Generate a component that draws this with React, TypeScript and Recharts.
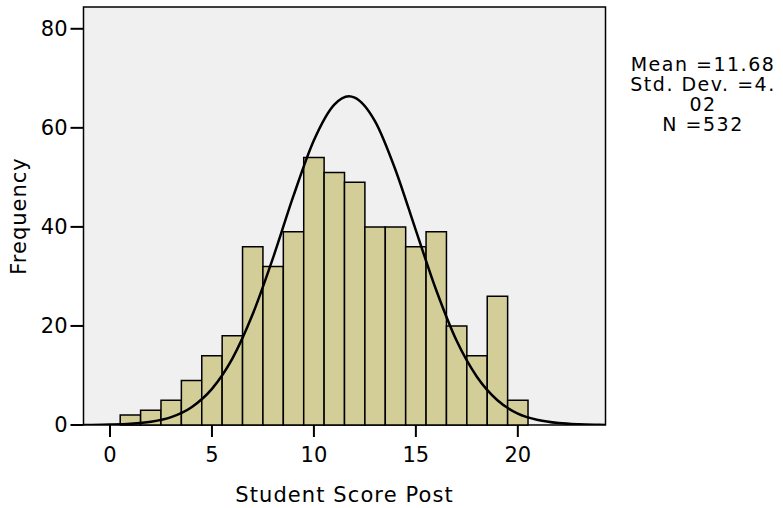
import React from 'react';
import { ComposedChart, Line, XAxis, YAxis, ReferenceArea, Label } from 'recharts';

// histogram bins (score, centred on integers, width 1)
const binCenters = [1, 2, 3, 4, 5, 6, 7, 8, 9, 10, 11, 12, 13, 14, 15, 16, 17, 18, 19, 20];
const binCounts = [2, 3, 5, 9, 14, 18, 36, 32, 39, 54, 51, 49, 40, 40, 36, 39, 20, 14, 26, 5];

// normal curve
const curveX = [-1.3, -1, 0, 1, 2, 3, 4, 5, 6, 7, 8, 9, 10, 11, 11.72, 12, 13, 14, 15, 16, 17, 18, 19, 20, 21, 22, 23, 24, 24.3];
const curveY = [0.01, 0.02, 0.08, 0.24, 0.66, 1.6, 3.6, 7.3, 13.4, 22.4, 33.8, 46.3, 57.5, 64.7, 66.4, 66.1, 61.3, 51.5, 39.3, 27.2, 17.0, 9.7, 5.0, 2.3, 1.0, 0.38, 0.13, 0.04, 0.02];

const xTicks = [0, 5, 10, 15, 20];
const yTicks = [0, 20, 40, 60, 80];
const statLines = ['Mean =11.68', 'Std. Dev. =4.', '02', 'N =532'];

const X_DOMAIN: [number, number] = [-1.3, 24.3];
const Y_DOMAIN: [number, number] = [0, 84.4];

const FONT = '"DejaVu Sans", Verdana, sans-serif';

export default function App() {
  const curveData = curveX.map((x, i) => ({ x, y: curveY[i] }));

  return (
    <div style={{ position: 'absolute', left: 0, top: 0, width: 783, height: 508, background: '#fff', fontFamily: FONT }}>
      <ComposedChart
        width={783}
        height={508}
        data={curveData}
        margin={{ top: 7, right: 177.5, bottom: 0, left: 0 }}
      >
        <XAxis
          dataKey="x"
          type="number"
          domain={X_DOMAIN}
          ticks={xTicks}
          allowDataOverflow
          height={83}
          axisLine={false}
          tickSize={12}
          tickMargin={10}
          tickLine={{ stroke: '#000', strokeWidth: 2 }}
          tick={{ fill: '#000', fontSize: 21, fontFamily: FONT }}
        >
          <Label value="Student Score Post" position="insideBottom" offset={6} style={{ fill: '#000', fontSize: 21, letterSpacing: 1.1, fontFamily: FONT }} />
        </XAxis>
        <YAxis
          type="number"
          domain={Y_DOMAIN}
          ticks={yTicks}
          allowDataOverflow
          width={83.5}
          axisLine={false}
          tickSize={13}
          tickMargin={3}
          tickLine={{ stroke: '#000', strokeWidth: 2 }}
          tick={{ fill: '#000', fontSize: 21, fontFamily: FONT }}
        >
          <Label value="Frequency" angle={-90} position="center" dx={-23} style={{ fill: '#000', fontSize: 21, letterSpacing: 1, fontFamily: FONT, textAnchor: 'middle' }} />
        </YAxis>

        {/* plot background + frame */}
        <ReferenceArea
          x1={X_DOMAIN[0]}
          x2={X_DOMAIN[1]}
          y1={Y_DOMAIN[0]}
          y2={Y_DOMAIN[1]}
          fill="#f0f0f0"
          fillOpacity={1}
          stroke="#000"
          strokeWidth={1.5}
        />

        {binCenters.map((c, i) => (
          <ReferenceArea
            key={c}
            x1={c - 0.5}
            x2={c + 0.5}
            y1={0}
            y2={binCounts[i]}
            fill="#d3ce98"
            fillOpacity={1}
            stroke="#000"
            strokeWidth={1.5}
          />
        ))}

        <Line
          type="monotone"
          dataKey="y"
          stroke="#000"
          strokeWidth={2.5}
          dot={false}
          activeDot={false}
          isAnimationActive={false}
        />
      </ComposedChart>

      <div
        style={{
          position: 'absolute',
          left: 624,
          width: 158,
          top: 54,
          textAlign: 'center',
          fontSize: 19,
          letterSpacing: 1.5,
          lineHeight: '20px',
          color: '#000',
        }}
      >
        {statLines.map(s => (
          <div key={s}>{s}</div>
        ))}
      </div>
    </div>
  );
}
